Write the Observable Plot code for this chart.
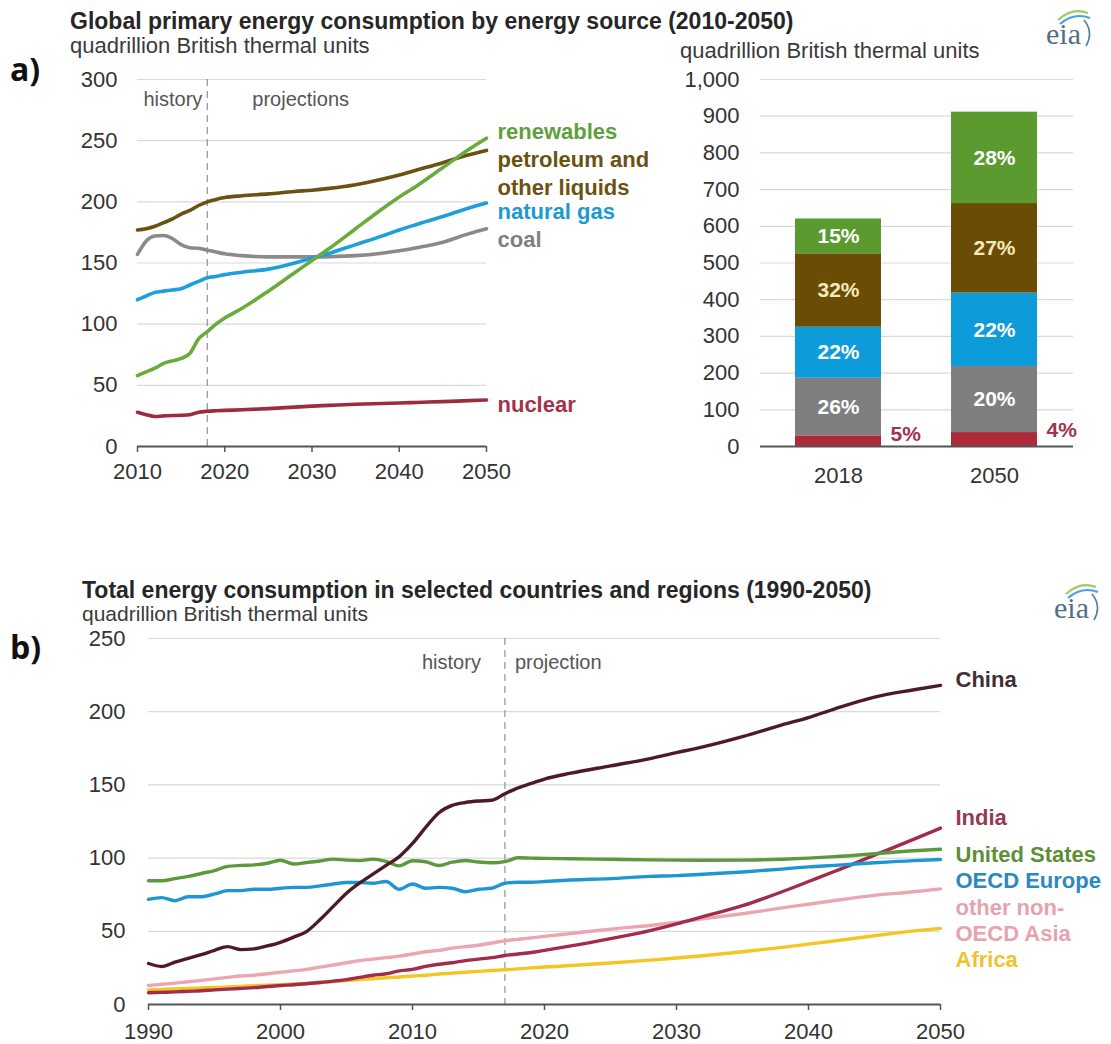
<!DOCTYPE html>
<html>
<head>
<meta charset="utf-8">
<script src="https://cdn.jsdelivr.net/npm/d3@7"></script>
<script src="https://cdn.jsdelivr.net/npm/@observablehq/plot@0.6"></script>
<style>
  body { margin: 0; background: #fff; }
  #root { position: relative; width: 1111px; height: 1044px; overflow: hidden; font-family: "Liberation Sans", Arial, sans-serif; background:#fff; }
  .abs { position: absolute; white-space: nowrap; line-height: 1; }
  .title { font-weight: bold; font-size: 23px; color: #262626; }
  .sub { font-size: 22px; color: #3a3a3a; }
  .sub21 { font-size: 21px; color: #3a3a3a; }
  .panel { font-weight: bold; font-size: 32px; color: #111; font-family: "Open Sans", "Liberation Sans", sans-serif; }
</style>
</head>
<body>
<div id="root"></div>
<script>
// ---------------- DATA: panel a (line chart) ----------------
const yearsA = [2010,2011,2012,2013,2014,2015,2016,2017,2018,2019,2020,2022,2025,2028,2030,2032,2035,2038,2040,2042,2045,2048,2050];
const renewables = [58,61,64,68,70,72,76,88,94,100,105,113,127,142,152,162,178,194,204,213,228,243,252];
const petroleum  = [177,178,180,183,186,190,193,197,200,202,203.5,205,206.5,208.5,209.5,211,214,218.5,222,226,232,238.5,242];
const naturalGas = [120,123,126,127,128,129,132,135,138,139,140.5,142.5,145,150,154,158,165,172,177,181.5,188,195,199];
const coal       = [157,168,172,172.5,170,165,162.5,162,160.5,159,157.5,156,155,155,155,155.2,156,158,160,162.5,167,174,178];
const nuclear    = [28,26,24.5,25,25.3,25.5,26,28,28.8,29.2,29.5,30,31,32.2,33,33.6,34.5,35.2,35.5,36,36.7,37.5,38];
const historyEndA = 2018;
const yTicksA = [0,50,100,150,200,250,300];
const xTicksA = [2010,2020,2030,2040,2050];

// ---------------- DATA: panel a (stacked bars) ----------------
const barYears = ["2018","2050"];
const barSources = ["nuclear","coal","natural gas","petroleum and other liquids","renewables"];
const bar2018 = [29,157,139,200,95];
const bar2050 = [38,180,200,244,249];
const pct2018 = ["5%","26%","22%","32%","15%"];
const pct2050 = ["4%","20%","22%","27%","28%"];
const yTicksBar = [0,100,200,300,400,500,600,700,800,900,1000];

// ---------------- DATA: panel b (line chart) ----------------
const yearsB = [1990,1991,1992,1993,1994,1995,1996,1997,1998,1999,2000,2001,2002,2003,2004,2005,2006,2007,2008,2009,2010,2011,2012,2013,2014,2015,2016,2017,2018,2019,2020,2022,2025,2028,2030,2032,2035,2038,2040,2042,2045,2048,2050];
const china   = [28,26,29,31.5,34,37,39.5,37.5,38,40,42.5,46,50,58,67,76,83,89,95,101,110,121,131,136,138,139,139.5,144,148,151,154,158,163,168,172,176,183,191,196,202,210,215,218];
const india   = [8,8.3,8.6,9,9.4,10,10.5,11,11.5,12.3,13,13.5,14.2,15,16,17,18.5,20,21,23,24,26,27.5,28.5,30,31,32,33.5,34.5,35.5,37,40,45,50.5,55,60,67.5,77,84,91,102,113,120.5];
const unitedStates = [84.5,84.5,86,87.5,89.5,91.5,94.3,95,95.4,96.5,98.5,96,97,98,99.3,98.6,98.3,99.3,97.7,94.7,98.2,97.5,94.9,97.2,98.4,97.3,96.8,97.6,100.2,100,99.8,99.6,99.2,98.8,98.6,98.5,98.6,99.2,100,101,103,105,106];
const oecdEurope = [71.8,73,70.9,73.6,73.6,75.5,77.8,77.8,78.7,78.7,79.4,80,80,81,82.3,83.3,83.3,82.8,84,78.7,82.3,79.4,80,79.4,77,78.7,79.4,82.8,83.5,83.5,84,85,86,87.5,88,89,90.5,92.5,94,95,96.8,98.3,99];
const otherAsia = [13,13.8,14.6,15.5,16.5,17.5,18.5,19.5,20,21,22,23,24,25.5,27,28.5,30,31,32,33,34.5,36,37,38.5,39.5,40.5,42,43.5,44.5,45.5,46.5,48.5,51.5,54,56,58.5,62,66,68.5,71,74.5,77,79];
const africa = [10,10.3,10.6,11,11.3,11.6,12,12.4,12.8,13.2,13.6,14,14.5,15,15.7,16.3,17,17.6,18.3,18.8,19.5,20,20.8,21.4,22,22.6,23.2,23.7,24.3,25,25.6,26.6,28.3,30.3,31.8,33.3,36,39,41.2,43.5,47,50.3,52];
const historyEndB = 2017;
const yTicksB = [0,50,100,150,200,250];
const xTicksB = [1990,2000,2010,2020,2030,2040,2050];

// ---------------- STYLE ----------------
const FONT = '"Liberation Sans", Arial, sans-serif';
const seriesA = [
  {name: "nuclear", values: nuclear, line: "#9e2b3f", label: "#a3334a"},
  {name: "coal", values: coal, line: "#8a8a8a", label: "#7f7f7f"},
  {name: "natural gas", values: naturalGas, line: "#1c9fdb", label: "#1b9ad4"},
  {name: "petroleum and other liquids", values: petroleum, line: "#6a5212", label: "#6b5210"},
  {name: "renewables", values: renewables, line: "#6aab3c", label: "#5fa03c"}
];
const labelsA = [
  {series: "renewables", text: "renewables", dy: -6},
  {series: "petroleum and other liquids", text: "petroleum and", dy: 9},
  {series: "petroleum and other liquids", text: "other liquids", dy: 37},
  {series: "natural gas", text: "natural gas", dy: 9},
  {series: "coal", text: "coal", dy: 11},
  {series: "nuclear", text: "nuclear", dy: 5}
];
const barColors = ["#ad2a3a", "#7f7f7f", "#0e9bd9", "#6a4c05", "#5b9a2e"];

const seriesB = [
  {name: "Africa", values: africa, line: "#f3c623", label: "#f0c232"},
  {name: "other non-OECD Asia", values: otherAsia, line: "#eba6b2", label: "#e6a3ae"},
  {name: "India", values: india, line: "#a32c4c", label: "#943a55"},
  {name: "OECD Europe", values: oecdEurope, line: "#1e96d3", label: "#2c88c2"},
  {name: "United States", values: unitedStates, line: "#5b9a3c", label: "#5d8f38"},
  {name: "China", values: china, line: "#4e1b24", label: "#3f3035"}
];
const labelsB = [
  {series: "China", text: "China", dy: -5},
  {series: "India", text: "India", dy: -10},
  {series: "United States", text: "United States", dy: 6},
  {series: "OECD Europe", text: "OECD Europe", dy: 21},
  {series: "other non-OECD Asia", text: "other non-", dy: 19},
  {series: "other non-OECD Asia", text: "OECD Asia", dy: 45},
  {series: "Africa", text: "Africa", dy: 32}
];

// ---------------- HELPERS ----------------
const root = document.getElementById("root");
function placeText(txt, x, cy, cls, size, color) {
  const d = document.createElement("div");
  d.className = "abs " + cls;
  d.textContent = txt;
  d.style.left = x + "px";
  d.style.top = (cy - 0.52 * size) + "px";
  if (color) d.style.color = color;
  root.appendChild(d);
}
function placeNode(node, left, top) {
  const w = document.createElement("div");
  w.className = "abs";
  w.style.left = left + "px";
  w.style.top = top + "px";
  w.appendChild(node);
  root.appendChild(w);
}
function eiaLogo(left, top) {
  const ns = "http://www.w3.org/2000/svg";
  const svg = document.createElementNS(ns, "svg");
  svg.setAttribute("width", 50); svg.setAttribute("height", 46);
  svg.innerHTML =
    '<path d="M14 16 Q28 3 44 9" stroke="#9ccc65" stroke-width="2.2" fill="none"/>' +
    '<path d="M16 20 Q30 8 46 14" stroke="#4aa3d8" stroke-width="2.2" fill="none"/>' +
    '<path d="M40 16 Q50 28 42 42" stroke="#4f7f9a" stroke-width="1.6" fill="none"/>' +
    '<text x="2" y="40" font-family="Liberation Serif, DejaVu Serif, serif" font-size="30" fill="#4f6f86">eia</text>';
  placeNode(svg, left, top);
}

// ---------------- PANEL a: line chart ----------------
const dataA = seriesA.flatMap(s => yearsA.map((yr, i) => ({year: yr, value: s.values[i], series: s.name})));
const lastA = name => dataA.filter(d => d.series === name).slice(-1);

const plotA = Plot.plot({
  width: 700, height: 500,
  marginLeft: 137, marginRight: 214, marginTop: 79, marginBottom: 54,
  style: {fontFamily: FONT, fontSize: "22px", color: "#333", background: "transparent", overflow: "visible"},
  x: {domain: [2010, 2050], label: null},
  y: {domain: [0, 300], label: null},
  color: {domain: seriesA.map(s => s.name), range: seriesA.map(s => s.line)},
  marks: [
    Plot.gridY(yTicksA, {stroke: "#d9d9d9", strokeOpacity: 1, strokeWidth: 1.2}),
    Plot.axisY(yTicksA, {tickSize: 0, tickPadding: 20, fontSize: 22, label: null, tickFormat: d3.format(",")}),
    Plot.axisX(xTicksA, {tickSize: 6, tickPadding: 11, fontSize: 22, label: null, tickFormat: d => String(d), stroke: "#555", strokeWidth: 1.5}),
    Plot.ruleX([historyEndA], {stroke: "#9a9a9a", strokeDasharray: "7,5", strokeWidth: 1.3}),
    Plot.ruleY([0], {stroke: "#555", strokeWidth: 1.8}),
    Plot.text(["history"], {x: historyEndA, frameAnchor: "top", textAnchor: "end", dx: -5, dy: 12, fontSize: 20, fill: "#555"}),
    Plot.text(["projections"], {x: historyEndA, frameAnchor: "top", textAnchor: "start", dx: 45, dy: 12, fontSize: 20, fill: "#555"}),
    Plot.line(dataA, {x: "year", y: "value", z: "series", stroke: "series", strokeWidth: 3.6, curve: "monotone-x"}),
    ...labelsA.map(l => {
      const s = seriesA.find(q => q.name === l.series);
      return Plot.text(lastA(l.series), {x: "year", y: "value", text: () => l.text, dx: 11, dy: l.dy, textAnchor: "start", fill: s.label, fontWeight: "bold", fontSize: 22});
    })
  ]
});
placeNode(plotA, 0, 0);

// ---------------- PANEL a: stacked bars ----------------
const barData = barYears.flatMap((yr, j) => barSources.map((src, i) => ({
  year: yr, source: src,
  value: (j === 0 ? bar2018 : bar2050)[i],
  pct: (j === 0 ? pct2018 : pct2050)[i]
})));
const barNuclear = barData.filter(d => d.source === "nuclear");

const plotBar = Plot.plot({
  width: 551, height: 500,
  marginLeft: 200, marginRight: 38, marginTop: 79, marginBottom: 54,
  style: {fontFamily: FONT, fontSize: "22px", color: "#333", background: "transparent", overflow: "visible"},
  x: {domain: barYears, paddingInner: 0.446, paddingOuter: 0.223, label: null},
  y: {domain: [0, 1000], label: null},
  color: {domain: barSources, range: barColors},
  marks: [
    Plot.gridY(yTicksBar, {stroke: "#d9d9d9", strokeOpacity: 1, strokeWidth: 1.2}),
    Plot.axisY(yTicksBar, {tickSize: 0, tickPadding: 21, fontSize: 22, label: null, tickFormat: d3.format(",")}),
    Plot.axisX({tickSize: 0, tickPadding: 21, fontSize: 22, label: null}),
    Plot.barY(barData, {x: "year", y: "value", fill: "source"}),
    Plot.ruleY([0], {stroke: "#555", strokeWidth: 1.8}),
    Plot.text(barData, Plot.stackY({x: "year", y: "value",
      text: d => (d.source === "nuclear" || d.source === "petroleum and other liquids") ? "" : d.pct,
      fill: "#ffffff", fontWeight: "bold", fontSize: 21})),
    Plot.text(barData, Plot.stackY({x: "year", y: "value",
      text: d => d.source === "petroleum and other liquids" ? d.pct : "",
      fill: "#f5e9bd", fontWeight: "bold", fontSize: 21})),
    Plot.text(barNuclear, Plot.stackY2({x: "year", y: "value", text: "pct",
      dx: 52, dy: -2, textAnchor: "start", fill: "#a3334a", fontWeight: "bold", fontSize: 21}))
  ]
});
placeNode(plotBar, 560, 0);

// ---------------- PANEL b: line chart ----------------
const dataB = seriesB.flatMap(s => yearsB.map((yr, i) => ({year: yr, value: s.values[i], series: s.name})));
const lastB = name => dataB.filter(d => d.series === name).slice(-1);

const plotB = Plot.plot({
  width: 1111, height: 484,
  marginLeft: 148, marginRight: 171, marginTop: 78, marginBottom: 40,
  style: {fontFamily: FONT, fontSize: "22px", color: "#333", background: "transparent", overflow: "visible"},
  x: {domain: [1990, 2050], label: null},
  y: {domain: [0, 250], label: null},
  color: {domain: seriesB.map(s => s.name), range: seriesB.map(s => s.line)},
  marks: [
    Plot.gridY(yTicksB, {stroke: "#d9d9d9", strokeOpacity: 1, strokeWidth: 1.2}),
    Plot.axisY(yTicksB, {tickSize: 0, tickPadding: 23, fontSize: 22, label: null}),
    Plot.axisX(xTicksB, {tickSize: 6, tickPadding: 13, fontSize: 22, label: null, tickFormat: d => String(d), stroke: "#555", strokeWidth: 1.5}),
    Plot.ruleX([historyEndB], {stroke: "#9a9a9a", strokeDasharray: "7,5", strokeWidth: 1.3}),
    Plot.ruleY([0], {stroke: "#555", strokeWidth: 1.8}),
    Plot.text(["history"], {x: historyEndB, frameAnchor: "top", textAnchor: "end", dx: -24, dy: 16, fontSize: 20, fill: "#555"}),
    Plot.text(["projection"], {x: historyEndB, frameAnchor: "top", textAnchor: "start", dx: 10, dy: 16, fontSize: 20, fill: "#555"}),
    Plot.line(dataB, {x: "year", y: "value", z: "series", stroke: "series", strokeWidth: 3.4, curve: "monotone-x"}),
    ...labelsB.map(l => {
      const s = seriesB.find(q => q.name === l.series);
      return Plot.text(lastB(l.series), {x: "year", y: "value", text: () => l.text, dx: 15, dy: l.dy, textAnchor: "start", fill: s.label, fontWeight: "bold", fontSize: 22});
    })
  ]
});
placeNode(plotB, 0, 560);

// ---------------- TITLES ----------------
placeText("Global primary energy consumption by energy source (2010-2050)", 70, 22, "title", 23);
placeText("quadrillion British thermal units", 70, 46, "sub", 22);
placeText("quadrillion British thermal units", 680, 51, "sub", 22);
placeText("a)", 10, 70, "panel", 32);
placeText("Total energy consumption in selected countries and regions (1990-2050)", 82, 591, "title", 23);
placeText("quadrillion British thermal units", 82, 614, "sub21", 21);
placeText("b)", 10, 648, "panel", 32);
eiaLogo(1044, 4);
eiaLogo(1052, 578);
</script>
</body>
</html>
